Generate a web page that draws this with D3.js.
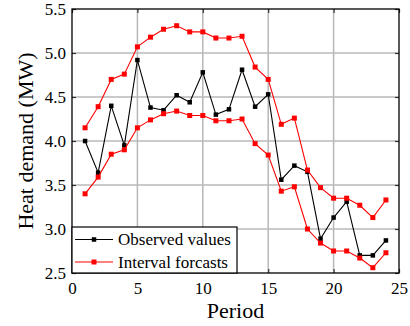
<!DOCTYPE html>
<html>
<head>
<meta charset="utf-8">
<script src="https://cdn.jsdelivr.net/npm/d3@7"></script>
<style>
  body { margin: 0; background: #fff; }
  svg text { font-family: "Liberation Serif", "Times New Roman", serif; fill: #000; }
</style>
</head>
<body>
<div id="chart"></div>
<script>
var periods = d3.range(1, 25);

var observed = [4.00, 3.64, 4.40, 3.95, 4.92, 4.38, 4.35, 4.52, 4.44, 4.78, 4.30, 4.36,
  4.81, 4.39, 4.53, 3.56, 3.72, 3.65, 2.89, 3.13, 3.31, 2.70, 2.70, 2.87];

var upperBound = [4.15, 4.39, 4.70, 4.76, 5.07, 5.18, 5.27, 5.31, 5.24, 5.24, 5.17, 5.17,
  5.19, 4.84, 4.70, 4.19, 4.26, 3.67, 3.47, 3.35, 3.35, 3.27, 3.13, 3.33];

var lowerBound = [3.40, 3.59, 3.85, 3.90, 4.15, 4.24, 4.31, 4.34, 4.29, 4.29, 4.23, 4.23,
  4.25, 3.97, 3.84, 3.43, 3.48, 3.00, 2.84, 2.75, 2.75, 2.67, 2.56, 2.73];

var xTicks = [0, 5, 10, 15, 20, 25];
var yTicks = [2.5, 3.0, 3.5, 4.0, 4.5, 5.0, 5.5];

var width = 410,
  height = 326;
var margin = { top: 9, right: 11, bottom: 53, left: 72 };

var svg = d3.select("#chart")
  .append("svg")
  .attr("width", width)
  .attr("height", height);

var x = d3.scaleLinear().domain([0, 25]).range([margin.left, width - margin.right]);
var y = d3.scaleLinear().domain([2.5, 5.5]).range([height - margin.bottom, margin.top]);

// grid lines
svg.append("g")
  .selectAll("line")
  .data(xTicks.slice(1, -1))
  .enter()
  .append("line")
  .attr("x1", function(d) { return x(d); })
  .attr("x2", function(d) { return x(d); })
  .attr("y1", y(2.5))
  .attr("y2", y(5.5))
  .attr("stroke", "#b8b8b8")
  .attr("stroke-width", 1.5);

svg.append("g")
  .selectAll("line")
  .data(yTicks.slice(1, -1))
  .enter()
  .append("line")
  .attr("y1", function(d) { return y(d); })
  .attr("y2", function(d) { return y(d); })
  .attr("x1", x(0))
  .attr("x2", x(25))
  .attr("stroke", "#b8b8b8")
  .attr("stroke-width", 1.5);

// axes with inward ticks
var xAxis = d3.axisBottom(x).tickValues(xTicks).tickSize(-4).tickPadding(9).tickFormat(d3.format("d"));
var yAxis = d3.axisLeft(y).tickValues(yTicks).tickSize(-4).tickPadding(6).tickFormat(d3.format(".1f"));

function styleAxis(g) {
  g.attr("font-family", null).attr("font-size", null);
  g.select(".domain").remove();
  g.selectAll(".tick line").attr("stroke", "#333").attr("stroke-width", 1.2);
  g.selectAll(".tick text")
    .style("font-family", "'Liberation Serif', 'Times New Roman', serif")
    .style("font-size", "17px");
}

svg.append("g")
  .attr("transform", "translate(0," + y(2.5) + ")")
  .call(xAxis)
  .call(styleAxis);

svg.append("g")
  .attr("transform", "translate(" + x(0) + ",0)")
  .call(yAxis)
  .call(styleAxis);

svg.append("g")
  .attr("transform", "translate(0," + y(5.5) + ")")
  .call(d3.axisTop(x).tickValues(xTicks).tickSize(-4).tickFormat(""))
  .call(styleAxis);

svg.append("g")
  .attr("transform", "translate(" + x(25) + ",0)")
  .call(d3.axisRight(y).tickValues(yTicks).tickSize(-4).tickFormat(""))
  .call(styleAxis);

// frame
svg.append("rect")
  .attr("x", x(0))
  .attr("y", y(5.5))
  .attr("width", x(25) - x(0))
  .attr("height", y(2.5) - y(5.5))
  .attr("fill", "none")
  .attr("stroke", "#000")
  .attr("stroke-width", 1.3);

// series
var line = d3.line()
  .x(function(d, i) { return x(periods[i]); })
  .y(function(d) { return y(d); });

function drawSeries(values, color, size) {
  svg.append("path")
    .datum(values)
    .attr("d", line)
    .attr("fill", "none")
    .attr("stroke", color)
    .attr("stroke-width", 1.1);
  svg.append("g")
    .selectAll("rect")
    .data(values)
    .enter()
    .append("rect")
    .attr("x", function(d, i) { return x(periods[i]) - size / 2; })
    .attr("y", function(d) { return y(d) - size / 2; })
    .attr("width", size)
    .attr("height", size)
    .attr("fill", color);
}

drawSeries(observed, "#000", 4.5);
drawSeries(upperBound, "#ff0000", 5);
drawSeries(lowerBound, "#ff0000", 5);

// legend
var legendItems = [
  { label: "Observed values", color: "#000", size: 4.5 },
  { label: "Interval forcasts", color: "#ff0000", size: 5 }
];

var legend = svg.append("g").attr("class", "legend");
legend.append("rect")
  .attr("x", x(0))
  .attr("y", 227)
  .attr("width", 165)
  .attr("height", y(2.5) - 227)
  .attr("fill", "#fff")
  .attr("stroke", "#000")
  .attr("stroke-width", 1.2);

var rows = legend.selectAll("g.row")
  .data(legendItems)
  .enter()
  .append("g")
  .attr("class", "row")
  .attr("transform", function(d, i) { return "translate(0," + (239.5 + i * 22.5) + ")"; });

rows.append("line")
  .attr("x1", 75)
  .attr("x2", 113)
  .attr("stroke", function(d) { return d.color; })
  .attr("stroke-width", 1.1);

rows.append("rect")
  .attr("x", function(d) { return 94 - d.size / 2; })
  .attr("y", function(d) { return -d.size / 2; })
  .attr("width", function(d) { return d.size; })
  .attr("height", function(d) { return d.size; })
  .attr("fill", function(d) { return d.color; });

rows.append("text")
  .attr("x", 118)
  .attr("dy", "0.35em")
  .attr("font-size", "17px")
  .text(function(d) { return d.label; });

// axis titles
svg.append("text")
  .attr("x", (x(0) + x(25)) / 2)
  .attr("y", 318)
  .attr("text-anchor", "middle")
  .attr("font-size", "22px")
  .text("Period");

svg.append("text")
  .attr("transform", "translate(33," + (y(4)) + ") rotate(-90)")
  .attr("text-anchor", "middle")
  .attr("font-size", "22px")
  .text("Heat demand (MW)");
</script>
</body>
</html>
